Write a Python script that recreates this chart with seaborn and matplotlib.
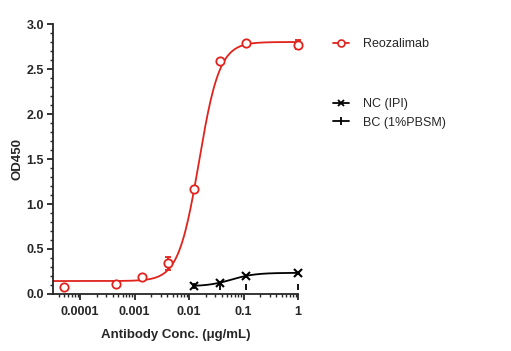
import numpy as np
import pandas as pd
import matplotlib
matplotlib.use('agg')
import matplotlib.pyplot as plt
import seaborn as sns
from matplotlib.lines import Line2D
from matplotlib.ticker import LogLocator, MultipleLocator, FuncFormatter, NullFormatter

# measured points
reo_conc = [1, 0.1111, 0.03704, 0.01235, 0.004115, 0.001372, 0.0004572, 0.0000508]
reo_od = [2.77, 2.79, 2.585, 1.167, 0.34, 0.19, 0.11, 0.08]
reo_err = [0.05, 0.01, 0.01, 0.01, 0.07, 0.01, 0.01, 0.01]

nc_conc = [1, 0.1111, 0.03704, 0.01235]
nc_od = [0.23, 0.20, 0.118, 0.093]

bc_conc = [1, 0.1111, 0.03704, 0.01235]
bc_od = [0.075, 0.075, 0.075, 0.09]

# 4PL fit parameters (bottom, top, ec50, hill)
reo_fit = (0.144, 2.80, 0.0152, 2.3)
nc_fit = (0.085, 0.235, 0.06, 2.0)

red = "#e0231d"


def four_pl(x, p):
    b, t, ec, h = p
    return b + (t - b) / (1 + (ec / x) ** h)


sns.set_style("ticks")
plt.rcParams['font.family'] = ['Liberation Sans', 'DejaVu Sans']

fig = plt.figure(figsize=(5.11, 3.51), dpi=100)
ax = fig.add_axes([0.1037, 0.1624, 0.4795, 0.7692])

xs = np.logspace(-4.5, 0, 300)
fit_df = pd.DataFrame({"x": xs, "y": four_pl(xs, reo_fit)})
sns.lineplot(data=fit_df, x="x", y="y", color=red, lw=1.3, ax=ax, clip_on=False)
xs2 = np.logspace(np.log10(min(nc_conc)), 0, 200)
nc_df = pd.DataFrame({"x": xs2, "y": four_pl(xs2, nc_fit)})
sns.lineplot(data=nc_df, x="x", y="y", color="black", lw=1.3, ax=ax, clip_on=False)

ax.errorbar(reo_conc, reo_od, yerr=reo_err, fmt='o', mfc='white', mec=red, ecolor=red,
            mew=1.3, ms=6, capsize=2.5, elinewidth=1.3, capthick=1.3, clip_on=False, zorder=5)
ax.plot(nc_conc, nc_od, 'x', color='black', ms=6, mew=1.5, clip_on=False, zorder=5)
ax.plot(bc_conc, bc_od, '|', color='black', ms=5, mew=1.3, clip_on=False, zorder=4)

ax.set_xscale('log')
ax.set_xlim(10 ** -4.5, 1)
ax.set_ylim(0, 3.0)
ax.xaxis.set_major_locator(LogLocator(base=10, numticks=10))
ax.xaxis.set_minor_locator(LogLocator(base=10, subs=np.arange(2, 10), numticks=20))
ax.xaxis.set_minor_formatter(NullFormatter())
ax.xaxis.set_major_formatter(FuncFormatter(lambda v, p: '{:g}'.format(v)))
ax.yaxis.set_major_locator(MultipleLocator(0.5))
ax.yaxis.set_minor_locator(MultipleLocator(0.1))
ax.yaxis.set_major_formatter(FuncFormatter(lambda v, p: '{:.1f}'.format(v)))

for s in ['left', 'bottom']:
    ax.spines[s].set_linewidth(1.3)
sns.despine(ax=ax)
ax.tick_params(which='major', length=4.5, width=1.3, labelsize=9, pad=2)
ax.tick_params(axis='x', which='major', pad=4)
ax.tick_params(which='minor', length=2.5, width=1.0)
for lab in ax.get_xticklabels() + ax.get_yticklabels():
    lab.set_fontweight('bold')

ax.set_xlabel('Antibody Conc. (μg/mL)', fontsize=9.5, fontweight='bold', labelpad=8)
ax.set_ylabel('OD450', fontsize=9.5, fontweight='bold', labelpad=2)

h1 = [Line2D([], [], color=red, marker='o', mfc='white', mec=red, ms=5, lw=1.3, mew=1.2)]
h2 = [Line2D([], [], color='black', marker='x', ms=5, lw=1.3, mew=1.3),
      Line2D([], [], color='black', marker='|', ms=6, lw=1.3, mew=1.3)]
leg1 = fig.legend(h1, ['Reozalimab'], loc='upper left', bbox_to_anchor=(0.63, 0.924),
                  frameon=False, fontsize=9, handlelength=1.3, handletextpad=1.05)
leg2 = fig.legend(h2, ['NC (IPI)', 'BC (1%PBSM)'], loc='upper left', bbox_to_anchor=(0.63, 0.752),
                  frameon=False, fontsize=9, handlelength=1.3, handletextpad=1.05, labelspacing=0.5)

fig.savefig('out.png', dpi=100)
